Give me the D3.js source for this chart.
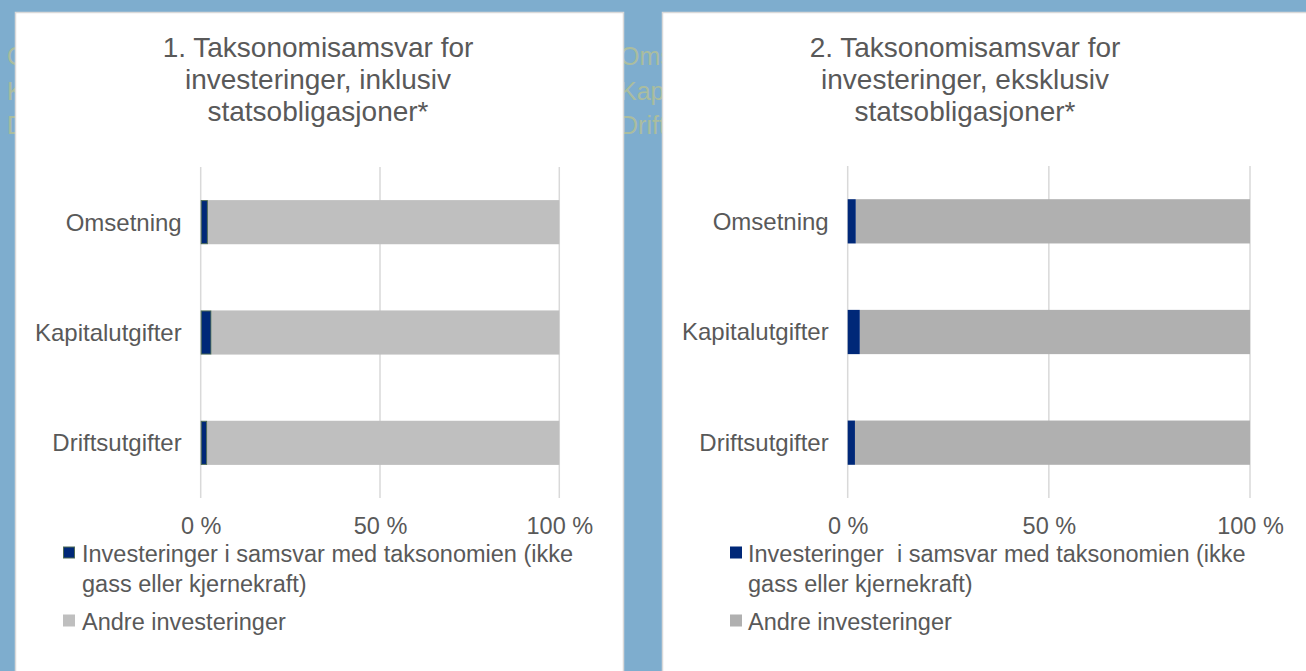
<!DOCTYPE html>
<html><head><meta charset="utf-8">
<script src="https://cdn.jsdelivr.net/npm/d3@7"></script>
<style>
html,body{margin:0;padding:0;background:#7EADCE;}
svg{display:block;font-family:"Liberation Sans",Arial,sans-serif;}
</style></head>
<body>
<svg id="c" width="1306" height="671"></svg>
<script>
const categories = ["Omsetning", "Kapitalutgifter", "Driftsutgifter"];
const alignedIncl = [2.0, 3.0, 1.8];
const otherIncl = [98.0, 97.0, 98.2];
const alignedExcl = [2.0, 3.0, 1.8];
const otherExcl = [98.0, 97.0, 98.2];
const tickValues = [0, 50, 100];
const titles = [
  ["1. Taksonomisamsvar for", "investeringer, inklusiv", "statsobligasjoner*"],
  ["2. Taksonomisamsvar for", "investeringer, eksklusiv", "statsobligasjoner*"]
];
const legendLabels = [
  [["Investeringer i samsvar med taksonomien (ikke", "gass eller kjernekraft)"], ["Andre investeringer"]],
  [["Investeringer  i samsvar med taksonomien (ikke", "gass eller kjernekraft)"], ["Andre investeringer"]]
];

const svg = d3.select("#c");
const textCol = "#595959";

// background
svg.append("rect").attr("width",1306).attr("height",671).attr("fill","#7EADCE");

// faint text behind the panels
const ghost = svg.append("g").attr("fill","#AABD9F").style("font-size","25px");
[7, 620].forEach(gx => {
  categories.forEach((c,i) => {
    ghost.append("text").attr("x",gx).attr("y",[65,100,134][i]).text(c);
  });
});

const charts = [
  {panelX:15, panelW:608, x0:200.7, x1:559.3, top:167, bottom:498, titleCx:318,
   mX:63, tX:82, aligned:alignedIncl, other:otherIncl, grey:"#BFBFBF", stroke:"#4E6B55", titles:titles[0], legend:legendLabels[0]},
  {panelX:662, panelW:660, x0:847.7, x1:1250, top:166, bottom:498, titleCx:965,
   mX:730, tX:748, aligned:alignedExcl, other:otherExcl, grey:"#B0B0B0", stroke:null, titles:titles[1], legend:legendLabels[1]}
];

charts.forEach(ch => {
  const g = svg.append("g");
  g.append("rect").attr("x",ch.panelX+0.5).attr("y",12.5).attr("width",ch.panelW).attr("height",680)
    .attr("fill","#fff").attr("stroke","#D9D9D9").attr("stroke-width",1.5);

  // title
  const t = g.append("text").attr("text-anchor","middle").attr("fill",textCol).style("font-size","28px");
  ch.titles.forEach((l,i) => t.append("tspan").attr("x",ch.titleCx).attr("y",57+i*32).text(l));

  const x = d3.scaleLinear().domain([0,100]).range([ch.x0, ch.x1]);
  const y = d3.scaleBand().domain(categories).range([ch.top, ch.bottom]).paddingInner(0.6).paddingOuter(0.3);

  // gridlines
  g.selectAll(".grid").data(tickValues).join("line")
    .attr("x1",d=>x(d)).attr("x2",d=>x(d)).attr("y1",ch.top).attr("y2",ch.bottom)
    .attr("stroke","#D9D9D9").attr("stroke-width",1.5);

  // bars
  const rows = categories.map((c,i)=>({c, a:ch.aligned[i], o:ch.other[i]}));
  g.selectAll(".other").data(rows).join("rect")
    .attr("x",d=>x(d.a)).attr("width",d=>x(d.a+d.o)-x(d.a))
    .attr("y",d=>y(d.c)).attr("height",y.bandwidth()).attr("fill",ch.grey);
  g.selectAll(".al").data(rows).join("rect")
    .attr("x",d=>x(0)+(ch.stroke?0.5:0)).attr("width",d=>x(d.a)-x(0)-(ch.stroke?1:0))
    .attr("y",d=>y(d.c)+(ch.stroke?0.5:0)).attr("height",y.bandwidth()-(ch.stroke?1:0))
    .attr("fill","#002878").attr("stroke",ch.stroke||"none").attr("stroke-width",1);

  // category labels
  g.selectAll(".cat").data(categories).join("text")
    .attr("x",ch.x0-19).attr("y",d=>y(d)+y.bandwidth()/2).attr("dy","0.35em")
    .attr("text-anchor","end").attr("fill",textCol).style("font-size","24px").text(d=>d);

  // x axis
  const ax = g.append("g").attr("transform",`translate(0,${ch.bottom})`)
    .call(d3.axisBottom(x).tickValues(tickValues).tickFormat(d=>d+" %").tickSize(0).tickPadding(19));
  ax.select(".domain").remove();
  ax.selectAll("text").attr("fill",textCol).style("font-size","23.5px").style("font-family","Liberation Sans, Arial, sans-serif");

  // legend
  const lg = g.append("g");
  const items = [{col:"#002878", stroke:ch.stroke, lines:ch.legend[0], y:562},
                 {col:ch.grey, stroke:null, lines:ch.legend[1], y:630}];
  items.forEach(it => {
    lg.append("rect").attr("x",ch.mX+(it.stroke?0.5:0)).attr("y",it.y-15.5+(it.stroke?0.5:0))
      .attr("width",12-(it.stroke?1:0)).attr("height",12-(it.stroke?1:0))
      .attr("fill",it.col).attr("stroke",it.stroke||"none");
    const tx = lg.append("text").attr("fill",textCol).style("font-size","23.5px").style("white-space","pre").attr("xml:space","preserve");
    it.lines.forEach((l,i)=>tx.append("tspan").attr("x",ch.tX).attr("y",it.y+i*30).text(l));
  });
});
</script>
</body></html>
